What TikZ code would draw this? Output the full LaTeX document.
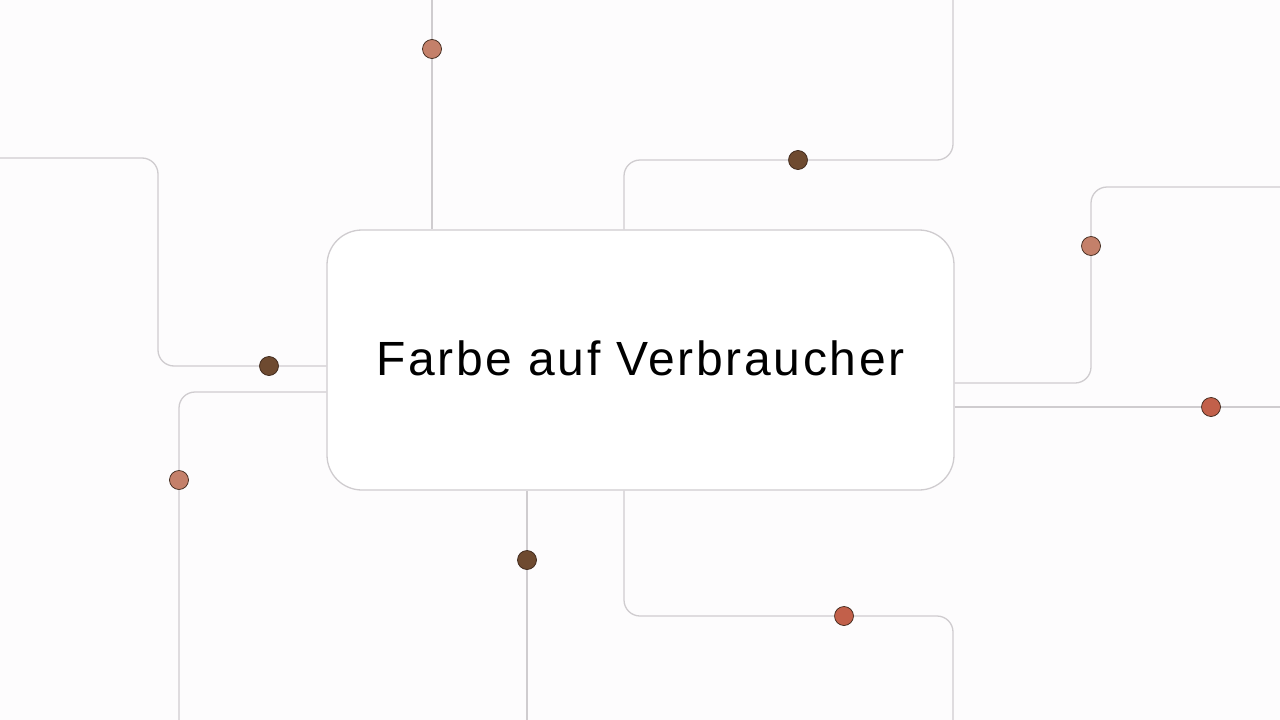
\documentclass[tikz,border=0pt]{standalone}
\usepackage{fontspec}
\setmainfont{Liberation Sans}[LetterSpace=5.5]
\usetikzlibrary{calc}

\definecolor{bgpaper}{HTML}{FDFCFD}
\definecolor{wiregray}{HTML}{CFCCCF}
\definecolor{dotlight}{HTML}{C4806A}
\definecolor{dotdark}{HTML}{6E4A30}
\definecolor{dotred}{HTML}{C2604A}
\definecolor{dotrim}{HTML}{3A2418}

\tikzset{
  wire/.style={draw=wiregray, line width=1.3pt, rounded corners=16pt},
  mainbox/.style={draw=wiregray, line width=1.3pt, fill=white, rounded corners=35pt,
    minimum width=627pt, minimum height=260pt, inner sep=0pt, font=\fontsize{48}{56}\selectfont},
  knot/.style={circle, draw=dotrim, line width=0.7pt, minimum size=19pt, inner sep=0pt}
}

\begin{document}
\begin{tikzpicture}[x=1pt, y=-1pt]
            \fill[bgpaper] (0,0) rectangle (1280,720);
            \useasboundingbox (0,0) rectangle (1280,720);
            \node[mainbox] (main) at (640.5,360) {\raisebox{3pt}{Farbe auf Verbraucher}};
            % dots on the wires
            \node[knot, fill=dotlight] (d1) at (432,49) {};
            \node[knot, fill=dotdark] (d2) at (798,160) {};
            \node[knot, fill=dotdark] (d3) at (269,366) {};
            \node[knot, fill=dotlight] (d4) at (179,480) {};
            \node[knot, fill=dotlight] (d5) at (1091,246) {};
            \node[knot, fill=dotred] (d6) at (1211,407) {};
            \node[knot, fill=dotdark] (d7) at (527,560) {};
            \node[knot, fill=dotred] (d8) at (844,616) {};
            % free ends at the border
            \coordinate (e1) at (432,0);
            \coordinate (e2) at (953,0);
            \coordinate (e3) at (0,158);
            \coordinate (e4) at (179,720);
            \coordinate (e5) at (1280,187);
            \coordinate (e6) at (1280,407);
            \coordinate (e7) at (527,720);
            \coordinate (e8) at (953,720);
            % wires
            \draw[wire] (main.north -| d1) -- (d1) -- (e1);
            \draw[wire] (main.north -| 624,0) |- (d2) -| (e2);
            \draw[wire] (e3) -| (158,366) -- (d3) -- (main.west |- d3);
            \draw[wire] (main.west |- 0,392) -| (d4) -- (e4);
            \draw[wire] (main.east |- 0,383) -| (d5) |- (e5);
            \draw[wire] (main.east |- d6) -- (d6) -- (e6);
            \draw[wire] (main.south -| d7) -- (d7) -- (e7);
            \draw[wire] (main.south -| 624,0) |- (d8) -| (e8);
\end{tikzpicture}
\end{document}
